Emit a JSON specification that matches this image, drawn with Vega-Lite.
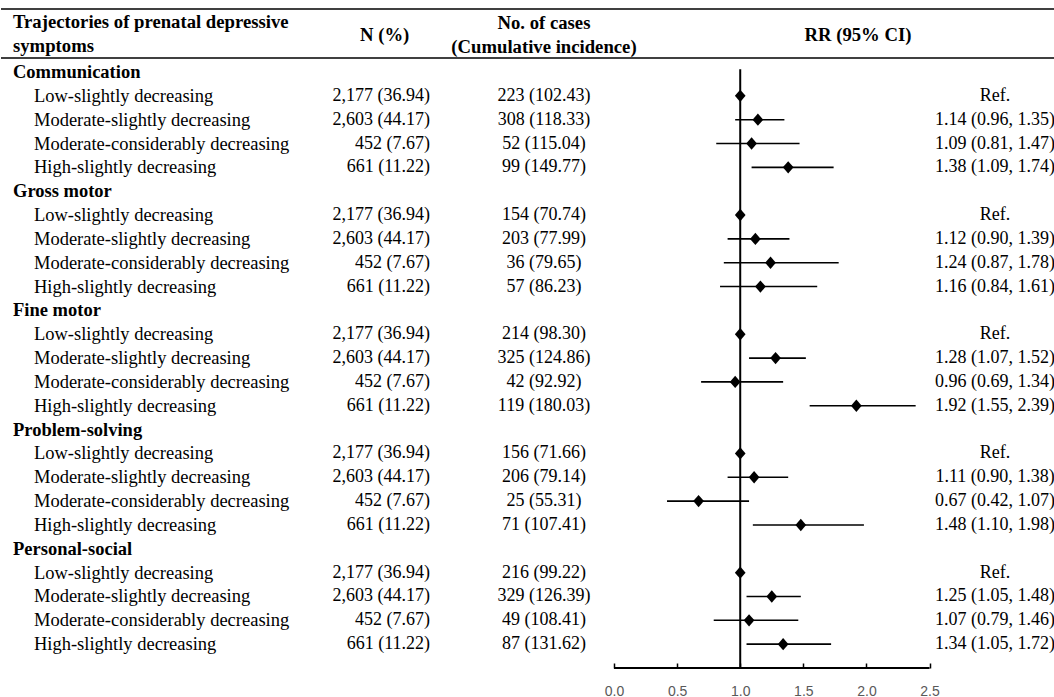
{
  "$schema": "https://vega.github.io/schema/vega-lite/v6.json",
  "width": 1054,
  "height": 668,
  "autosize": {"type": "pad"},
  "padding": 0,
  "background": "white",
  "config": {
    "view": {"stroke": null},
    "font": "Liberation Serif",
    "text": {"font": "Liberation Serif", "fontSize": 18, "color": "black", "baseline": "middle"},
    "axisY": {"disable": true}
  },
  "datasets": {
    "rows": [
      {"row": 0, "kind": "group", "label": "Communication"},
      {"row": 1, "kind": "item", "label": "Low-slightly decreasing", "n": "2,177 (36.94)", "cases": "223 (102.43)", "rrText": "Ref.", "rr": 1, "lo": 1, "hi": 1},
      {"row": 2, "kind": "item", "label": "Moderate-slightly decreasing", "n": "2,603 (44.17)", "cases": "308 (118.33)", "rrText": "1.14 (0.96, 1.35)", "rr": 1.14, "lo": 0.96, "hi": 1.35},
      {"row": 3, "kind": "item", "label": "Moderate-considerably decreasing", "n": "452 (7.67)", "cases": "52 (115.04)", "rrText": "1.09 (0.81, 1.47)", "rr": 1.09, "lo": 0.81, "hi": 1.47},
      {"row": 4, "kind": "item", "label": "High-slightly decreasing", "n": "661 (11.22)", "cases": "99 (149.77)", "rrText": "1.38 (1.09, 1.74)", "rr": 1.38, "lo": 1.09, "hi": 1.74},
      {"row": 5, "kind": "group", "label": "Gross motor"},
      {"row": 6, "kind": "item", "label": "Low-slightly decreasing", "n": "2,177 (36.94)", "cases": "154 (70.74)", "rrText": "Ref.", "rr": 1, "lo": 1, "hi": 1},
      {"row": 7, "kind": "item", "label": "Moderate-slightly decreasing", "n": "2,603 (44.17)", "cases": "203 (77.99)", "rrText": "1.12 (0.90, 1.39)", "rr": 1.12, "lo": 0.90, "hi": 1.39},
      {"row": 8, "kind": "item", "label": "Moderate-considerably decreasing", "n": "452 (7.67)", "cases": "36 (79.65)", "rrText": "1.24 (0.87, 1.78)", "rr": 1.24, "lo": 0.87, "hi": 1.78},
      {"row": 9, "kind": "item", "label": "High-slightly decreasing", "n": "661 (11.22)", "cases": "57 (86.23)", "rrText": "1.16 (0.84, 1.61)", "rr": 1.16, "lo": 0.84, "hi": 1.61},
      {"row": 10, "kind": "group", "label": "Fine motor"},
      {"row": 11, "kind": "item", "label": "Low-slightly decreasing", "n": "2,177 (36.94)", "cases": "214 (98.30)", "rrText": "Ref.", "rr": 1, "lo": 1, "hi": 1},
      {"row": 12, "kind": "item", "label": "Moderate-slightly decreasing", "n": "2,603 (44.17)", "cases": "325 (124.86)", "rrText": "1.28 (1.07, 1.52)", "rr": 1.28, "lo": 1.07, "hi": 1.52},
      {"row": 13, "kind": "item", "label": "Moderate-considerably decreasing", "n": "452 (7.67)", "cases": "42 (92.92)", "rrText": "0.96 (0.69, 1.34)", "rr": 0.96, "lo": 0.69, "hi": 1.34},
      {"row": 14, "kind": "item", "label": "High-slightly decreasing", "n": "661 (11.22)", "cases": "119 (180.03)", "rrText": "1.92 (1.55, 2.39)", "rr": 1.92, "lo": 1.55, "hi": 2.39},
      {"row": 15, "kind": "group", "label": "Problem-solving"},
      {"row": 16, "kind": "item", "label": "Low-slightly decreasing", "n": "2,177 (36.94)", "cases": "156 (71.66)", "rrText": "Ref.", "rr": 1, "lo": 1, "hi": 1},
      {"row": 17, "kind": "item", "label": "Moderate-slightly decreasing", "n": "2,603 (44.17)", "cases": "206 (79.14)", "rrText": "1.11 (0.90, 1.38)", "rr": 1.11, "lo": 0.90, "hi": 1.38},
      {"row": 18, "kind": "item", "label": "Moderate-considerably decreasing", "n": "452 (7.67)", "cases": "25 (55.31)", "rrText": "0.67 (0.42, 1.07)", "rr": 0.67, "lo": 0.42, "hi": 1.07},
      {"row": 19, "kind": "item", "label": "High-slightly decreasing", "n": "661 (11.22)", "cases": "71 (107.41)", "rrText": "1.48 (1.10, 1.98)", "rr": 1.48, "lo": 1.10, "hi": 1.98},
      {"row": 20, "kind": "group", "label": "Personal-social"},
      {"row": 21, "kind": "item", "label": "Low-slightly decreasing", "n": "2,177 (36.94)", "cases": "216 (99.22)", "rrText": "Ref.", "rr": 1, "lo": 1, "hi": 1},
      {"row": 22, "kind": "item", "label": "Moderate-slightly decreasing", "n": "2,603 (44.17)", "cases": "329 (126.39)", "rrText": "1.25 (1.05, 1.48)", "rr": 1.25, "lo": 1.05, "hi": 1.48},
      {"row": 23, "kind": "item", "label": "Moderate-considerably decreasing", "n": "452 (7.67)", "cases": "49 (108.41)", "rrText": "1.07 (0.79, 1.46)", "rr": 1.07, "lo": 0.79, "hi": 1.46},
      {"row": 24, "kind": "item", "label": "High-slightly decreasing", "n": "661 (11.22)", "cases": "87 (131.62)", "rrText": "1.34 (1.05, 1.72)", "rr": 1.34, "lo": 1.05, "hi": 1.72}
    ],
    "one": [{"k": 1}]
  },
  "data": {"name": "rows"},
  "layer": [
    {
      "data": {"name": "one"},
      "mark": {"type": "rule", "color": "black", "strokeWidth": 1.5},
      "encoding": {
        "y": {"datum": -2.642, "type": "quantitative", "scale": {"domain": [-3.02, 25.0], "reverse": true, "nice": false, "zero": false}, "axis": null}
      }
    },
    {
      "data": {"name": "one"},
      "mark": {"type": "rule", "color": "black", "strokeWidth": 1.5},
      "encoding": {"y": {"datum": -0.587, "type": "quantitative", "axis": null}}
    },
    {
      "data": {"name": "one"},
      "mark": {"type": "text", "align": "left", "fontWeight": "bold", "fontSize": 18.7, "lineHeight": 24, "text": ["Trajectories of prenatal depressive", "symptoms"]},
      "encoding": {
        "x": {"datum": -4.762, "type": "quantitative", "title": null},
        "y": {"datum": -2.1, "type": "quantitative", "axis": null}
      }
    },
    {
      "data": {"name": "one"},
      "mark": {"type": "text", "align": "center", "fontWeight": "bold", "fontSize": 18.7, "text": "N (%)"},
      "encoding": {
        "x": {"datum": -1.817, "type": "quantitative", "title": null},
        "y": {"datum": -1.551, "type": "quantitative", "axis": null}
      }
    },
    {
      "data": {"name": "one"},
      "mark": {"type": "text", "align": "center", "fontWeight": "bold", "fontSize": 18.7, "lineHeight": 24, "text": ["No. of cases", "(Cumulative incidence)"]},
      "encoding": {
        "x": {"datum": -0.555, "type": "quantitative", "title": null},
        "y": {"datum": -2.054, "type": "quantitative", "axis": null}
      }
    },
    {
      "data": {"name": "one"},
      "mark": {"type": "text", "align": "center", "fontWeight": "bold", "fontSize": 18.7, "text": "RR (95% CI)"},
      "encoding": {
        "x": {"datum": 1.933, "type": "quantitative", "title": null},
        "y": {"datum": -1.551, "type": "quantitative", "axis": null}
      }
    },
    {
      "transform": [{"filter": "datum.kind === 'group'"}],
      "mark": {"type": "text", "align": "left", "fontWeight": "bold", "fontSize": 18.5},
      "encoding": {
        "x": {"datum": -4.762, "type": "quantitative", "title": null},
        "y": {"field": "row", "type": "quantitative", "axis": null},
        "text": {"field": "label"}
      }
    },
    {
      "transform": [{"filter": "datum.kind === 'item'"}],
      "mark": {"type": "text", "align": "left", "fontSize": 18.5},
      "encoding": {
        "x": {"datum": -4.596, "type": "quantitative", "title": null},
        "y": {"field": "row", "type": "quantitative", "axis": null},
        "text": {"field": "label"}
      }
    },
    {
      "transform": [{"filter": "datum.kind === 'item'"}],
      "mark": {"type": "text", "align": "right"},
      "encoding": {
        "x": {"datum": -1.458, "type": "quantitative", "title": null},
        "y": {"field": "row", "type": "quantitative", "axis": null},
        "text": {"field": "n"}
      }
    },
    {
      "transform": [{"filter": "datum.kind === 'item'"}],
      "mark": {"type": "text", "align": "center"},
      "encoding": {
        "x": {"datum": -0.555, "type": "quantitative", "title": null},
        "y": {"field": "row", "type": "quantitative", "axis": null},
        "text": {"field": "cases"}
      }
    },
    {
      "transform": [{"filter": "datum.kind === 'item'"}],
      "mark": {"type": "text", "align": "center"},
      "encoding": {
        "x": {"datum": 3.019, "type": "quantitative", "title": null},
        "y": {"field": "row", "type": "quantitative", "axis": null},
        "text": {"field": "rrText"}
      }
    },
    {
      "data": {"name": "one"},
      "mark": {"type": "rule", "color": "black", "strokeWidth": 2},
      "encoding": {
        "x": {"datum": 1, "type": "quantitative", "title": null},
        "y": {"datum": -0.12, "type": "quantitative", "axis": null},
        "y2": {"datum": 25.0}
      }
    },
    {
      "data": {"name": "one"},
      "mark": {"type": "rule", "color": "black", "strokeWidth": 1.8},
      "encoding": {
        "x": {"datum": 0, "type": "quantitative", "title": null},
        "x2": {"datum": 2.5},
        "y": {"datum": 25.0, "type": "quantitative", "axis": null}
      }
    },
    {
      "transform": [{"filter": "datum.kind === 'item' && datum.hi > datum.lo"}],
      "mark": {"type": "rule", "color": "black", "strokeWidth": 1.6},
      "encoding": {
        "x": {"field": "lo", "type": "quantitative", "title": null},
        "x2": {"field": "hi"},
        "y": {"field": "row", "type": "quantitative", "axis": null}
      }
    },
    {
      "transform": [{"filter": "datum.kind === 'item'"}],
      "mark": {"type": "point", "shape": "M-1,0L0,-1.15L1,0L0,1.15Z", "filled": true, "color": "black", "opacity": 1, "size": 115},
      "encoding": {
        "x": {
          "field": "rr", "type": "quantitative", "title": null,
          "scale": {"domain": [-4.857, 3.494], "nice": false, "zero": false},
          "axis": {
            "values": [0, 0.5, 1, 1.5, 2, 2.5],
            "format": ".1f",
            "domain": false,
            "grid": false,
            "tickSize": -5,
            "tickWidth": 1.5,
            "tickColor": "black",
            "labelPadding": 21,
            "labelFont": "Liberation Sans",
            "labelFontSize": 14,
            "labelColor": "#595959",
            "title": null
          }
        },
        "y": {"field": "row", "type": "quantitative", "axis": null}
      }
    }
  ]
}
